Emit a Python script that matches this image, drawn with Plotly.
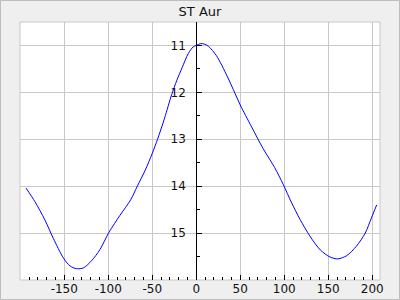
import plotly.graph_objects as go

phase = [-193.5, -183.3, -172, -162.5, -151, -143.5, -136, -128, -119, -109.4,
         -100, -93, -86.7, -74.5, -67, -58, -50, -44, -36, -28, -22, -16, -9, -3.5,
         0, 5, 9, 14, 23, 35, 44, 50, 63, 76, 89, 99, 108, 118, 129, 141, 152,
         161, 171, 182, 192, 199, 205]
mag = [14.04, 14.33, 14.72, 15.11, 15.53, 15.70, 15.76, 15.74, 15.59, 15.35,
       15.01, 14.80, 14.62, 14.29, 14.0, 13.66, 13.30, 13.0, 12.55, 12.05, 11.74, 11.47,
       11.17, 11.03, 11.0, 10.96, 10.97, 11.02, 11.22, 11.65, 12.02, 12.27,
       12.74, 13.20, 13.60, 13.97, 14.34, 14.71, 15.06, 15.36, 15.51, 15.55,
       15.48, 15.28, 15.0, 14.68, 14.40]

x_tickvals = [-150, -100, -50, 0, 50, 100, 150, 200]
x_ticktext = ["-150", "-100", "-50", "0", "50", "100", "150", "200"]
y_tickvals = [11, 12, 13, 14, 15]
y_ticktext = ["11", "12", "13", "14", "15"]
title_text = "ST Aur"

W, H = 400, 300
L, R, T, B = 20, 20, 22, 20
pw, ph = W - L - R, H - T - B
xr = [-200.3, 208.8]
yr = [16.0, 10.5]

fig = go.Figure()
fig.add_trace(go.Scatter(x=phase, y=mag, mode="lines",
                         line=dict(color="#0000ff", width=1, shape="spline", smoothing=0.8),
                         hoverinfo="skip"))

font = dict(family="DejaVu Sans", size=12, color="#111111")
fig.update_layout(
    width=W, height=H,
    margin=dict(l=L, r=R, t=T, b=B, pad=0, autoexpand=False),
    paper_bgcolor="#efefef", plot_bgcolor="#ffffff",
    showlegend=False,
    font=font,
    title=dict(text=title_text, x=0.5, xanchor="center", y=1 - 11 / H,
               yanchor="middle", yref="container", automargin=False,
               font=dict(family="DejaVu Sans", size=13, color="#111111")),
    xaxis=dict(range=xr, tickvals=x_tickvals, ticktext=x_ticktext, automargin=False,
               showgrid=True, gridcolor="#c8c8c8", gridwidth=1,
               zeroline=False, showline=False,
               ticks="inside", ticklen=5, tickcolor="black", tickwidth=1,
               minor=dict(ticks="inside", ticklen=3, dtick=10, tick0=0,
                          tickcolor="black", showgrid=False),
               tickfont=font),
    yaxis=dict(range=yr, tickvals=y_tickvals, ticktext=y_ticktext, automargin=False,
               anchor="free", position=(0 - xr[0]) / (xr[1] - xr[0]), side="left",
               showgrid=True, gridcolor="#c8c8c8", gridwidth=1,
               zeroline=False, showline=True, linecolor="black", linewidth=1,
               ticks="inside", ticklen=5, tickcolor="black", tickwidth=1,
               minor=dict(ticks="inside", ticklen=3, dtick=0.5, tick0=0,
                          tickcolor="black", showgrid=False),
               ticklabelstandoff=8,
               tickfont=font),
)

# plot frame
fig.add_shape(type="rect", xref="paper", yref="paper", x0=0, x1=1, y0=0, y1=1,
              line=dict(color="#c8c8c8", width=1), layer="below")
# outer border
fig.add_shape(type="rect", xref="paper", yref="paper",
              x0=(0.5 - L) / pw, x1=(W - 0.5 - L) / pw,
              y0=-(B - 0.5) / ph, y1=1 + (T - 0.5) / ph,
              line=dict(color="#bdbdbd", width=1), layer="below")

fig.write_html("out.html")
